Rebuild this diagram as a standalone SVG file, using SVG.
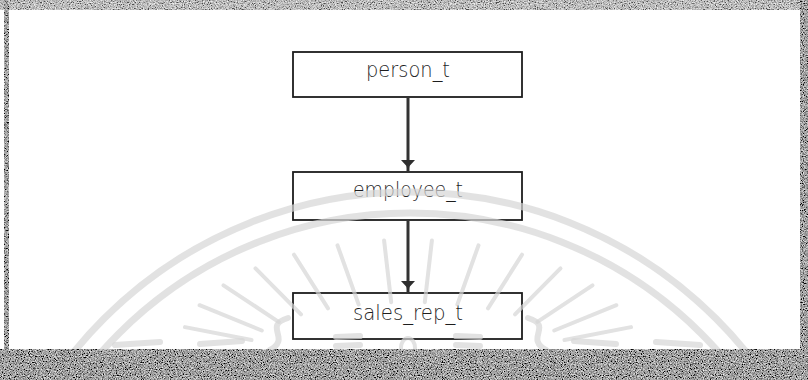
<svg xmlns="http://www.w3.org/2000/svg" width="808" height="380" viewBox="0 0 808 380">
  <defs>
    <style>
      .box { fill: #ffffff; stroke: #1c1c1c; stroke-width: 1.8; }
      .label { font-family: "DejaVu Sans", "Liberation Sans", sans-serif; font-weight: 200; font-size: 21px; fill: #1e1e1e; text-anchor: middle; }
      .edge { stroke: #333333; stroke-width: 3; fill: none; }
      .seal { stroke: #d6d6d6; fill: none; stroke-linecap: round; opacity: 0.7; }
    </style>
    <!-- arrowhead drawn along +x so orient="auto" turns it down the line -->
    <marker id="head" viewBox="0 0 12 14" refX="12" refY="7" markerWidth="12" markerHeight="14" markerUnits="userSpaceOnUse" orient="auto">
      <path d="M0,0 L6,5.5 L12,7 L6,8.5 L0,14 Z" fill="#2e2e2e"/>
    </marker>
    <filter id="grain" x="0" y="0" width="1" height="1">
      <feTurbulence type="fractalNoise" baseFrequency="0.85" numOctaves="2" seed="7" result="n"/>
      <feColorMatrix in="n" type="matrix" values="1.6 0 0 0 -0.45  1.6 0 0 0 -0.45  1.6 0 0 0 -0.45  0 0 0 0 1" result="g"/>
      <feComposite in="g" in2="SourceAlpha" operator="in"/>
    </filter>
    <clipPath id="sheet">
      <rect x="8" y="10" width="792" height="339"/>
    </clipPath>
  </defs>

  <!-- page -->
  <rect x="0" y="0" width="808" height="380" fill="#ffffff"/>

  <!-- nodes -->
  <g id="person_t">
    <rect class="box" x="293" y="52" width="229" height="45"/>
    <text class="label" x="408" y="77" textLength="84" lengthAdjust="spacingAndGlyphs">person_t</text>
  </g>
  <g id="employee_t">
    <rect class="box" x="293" y="172" width="229" height="48"/>
    <text class="label" x="408" y="197" textLength="110" lengthAdjust="spacingAndGlyphs">employee_t</text>
  </g>
  <g id="sales_rep_t">
    <rect class="box" x="293" y="293" width="229" height="46"/>
    <text class="label" x="408" y="320" textLength="110" lengthAdjust="spacingAndGlyphs">sales_rep_t</text>
  </g>

  <!-- connectors -->
  <g id="edges">
    <line class="edge" x1="408" y1="97" x2="408" y2="172" marker-end="url(#head)"/>
    <line class="edge" x1="408" y1="220" x2="408" y2="293" marker-end="url(#head)"/>
  </g>

  <!-- faint seal printed over the sheet -->
  <g id="seal" clip-path="url(#sheet)">
    <circle class="seal" cx="410" cy="625" r="433" stroke-width="7"/>
    <circle class="seal" cx="410" cy="625" r="412" stroke-width="7"/>
    <g class="seal" stroke-width="4">
      <line x1="564.5" y1="340.0" x2="631.0" y2="327.1"/>
      <line x1="554.2" y1="330.5" x2="616.4" y2="305.2"/>
      <line x1="537.4" y1="321.8" x2="592.5" y2="285.3"/>
      <line x1="515.0" y1="314.3" x2="560.5" y2="268.3"/>
      <line x1="488.0" y1="308.4" x2="522.0" y2="254.7"/>
      <line x1="457.4" y1="304.4" x2="478.5" y2="245.4"/>
      <line x1="424.8" y1="302.2" x2="431.9" y2="240.6"/>
      <line x1="391.2" y1="302.2" x2="384.1" y2="240.6"/>
      <line x1="358.6" y1="304.4" x2="337.5" y2="245.4"/>
      <line x1="328.0" y1="308.4" x2="294.0" y2="254.7"/>
      <line x1="301.0" y1="314.3" x2="255.5" y2="268.3"/>
      <line x1="278.6" y1="321.8" x2="223.5" y2="285.3"/>
      <line x1="261.8" y1="330.5" x2="199.6" y2="305.2"/>
      <line x1="251.5" y1="340.0" x2="185.0" y2="327.1"/>
    </g>
    <g class="seal" stroke-width="6">
      <line x1="115" y1="345" x2="160" y2="342"/>
      <line x1="200" y1="344" x2="242" y2="341"/>
      <line x1="574" y1="341" x2="616" y2="344"/>
      <line x1="656" y1="342" x2="700" y2="345"/>
      <path d="M288,318 C262,326 292,338 270,350"/>
      <path d="M528,318 C554,326 524,338 546,350"/>
      <line x1="336" y1="337" x2="360" y2="336"/>
      <line x1="336" y1="346" x2="360" y2="345"/>
      <line x1="456" y1="336" x2="480" y2="337"/>
      <line x1="456" y1="345" x2="480" y2="346"/>
      <ellipse cx="408" cy="348" rx="7" ry="10" stroke-width="4"/>
    </g>
  </g>

  <!-- scanned page margins -->
  <g id="margins" filter="url(#grain)">
    <rect x="0" y="0" width="808" height="10" opacity="0.7"/>
    <rect x="4" y="0" width="5" height="380"/>
    <rect x="800" y="0" width="8" height="380"/>
    <rect x="0" y="349" width="808" height="31"/>
  </g>
</svg>
